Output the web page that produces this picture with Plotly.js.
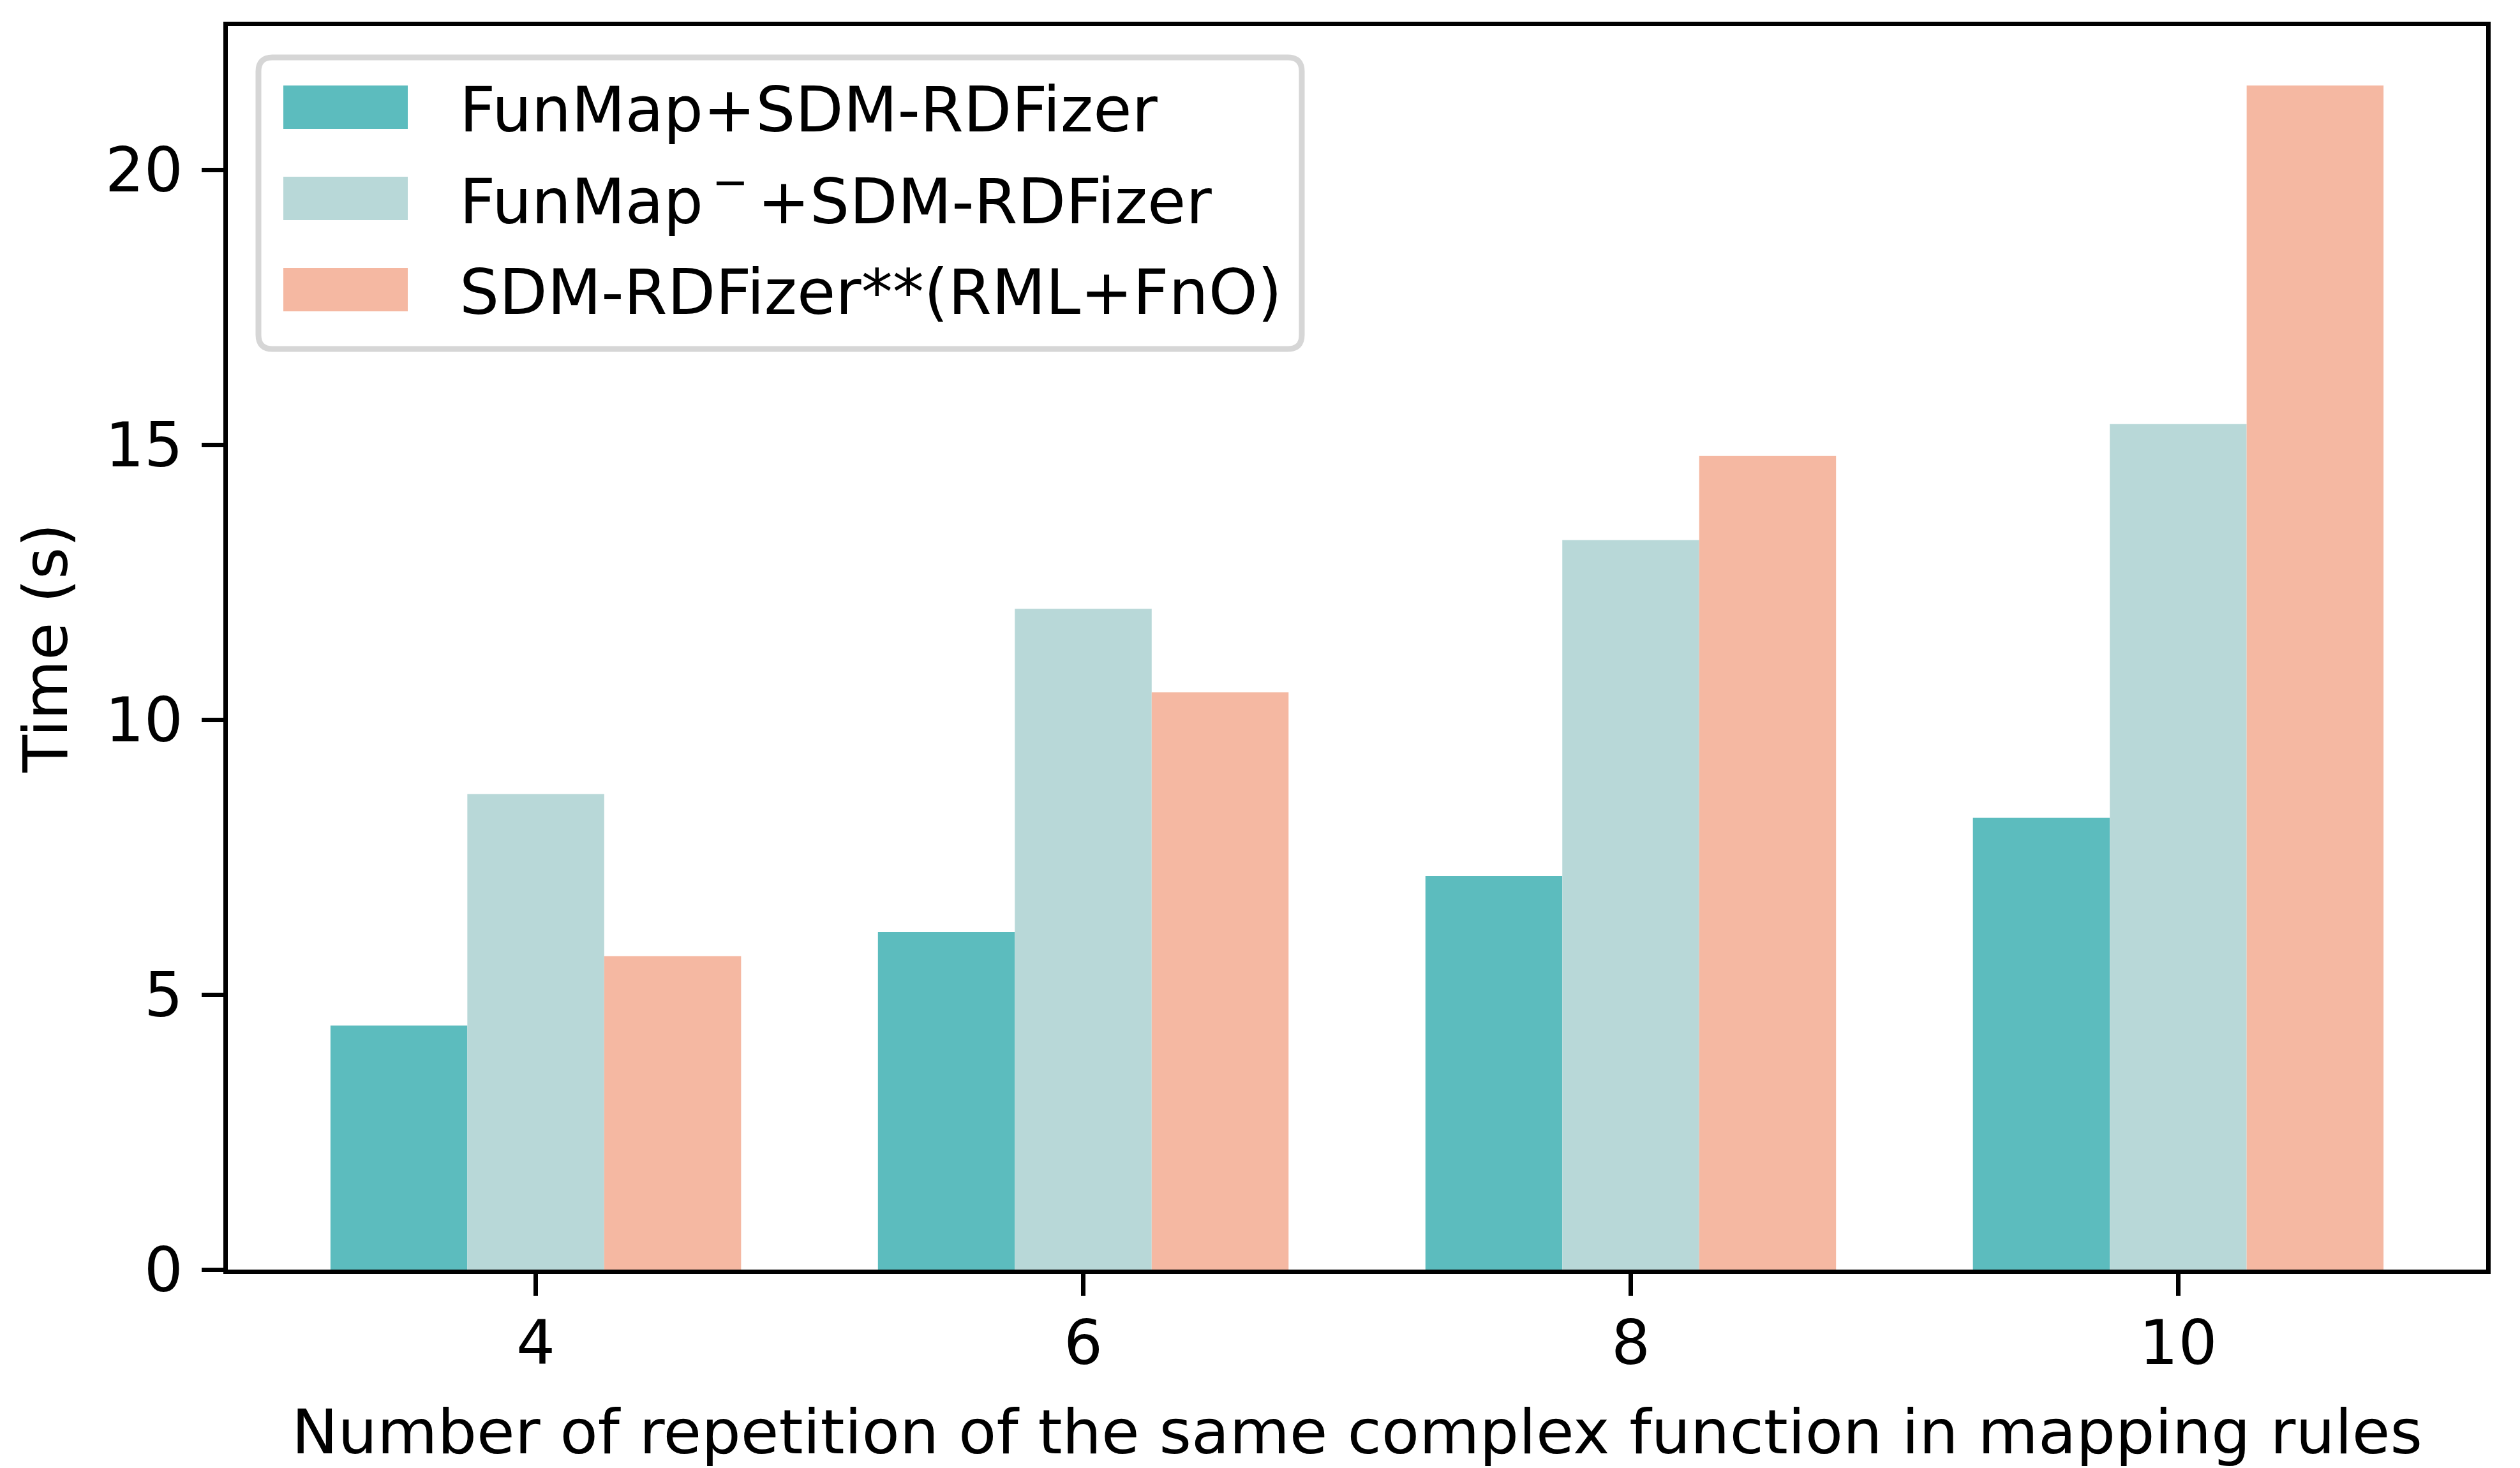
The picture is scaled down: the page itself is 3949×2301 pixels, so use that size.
<!DOCTYPE html>
<html>
<head>
<meta charset="utf-8">
<script src="https://cdn.plot.ly/plotly-3.0.1.min.js"></script>
<style>html,body{margin:0;padding:0;background:#fff;}#chart{width:3949px;height:2301px;}</style>
</head>
<body>
<div id="chart"></div>
<script>
const categories = [4, 6, 8, 10];
const seriesNames = ["FunMap+SDM-RDFizer", "FunMap<sup>\u2009−\u2009</sup>+SDM-RDFizer", "SDM-RDFizer**(RML+FnO)"];
const funmapSdm = [4.44, 6.14, 7.16, 8.22];
const funmapMinusSdm = [8.65, 12.02, 13.27, 15.38];
const sdmRmlFno = [5.70, 10.50, 14.80, 21.54];
const xTickLabels = ["4", "6", "8", "10"];
const seriesColors = ["#5CBCBE", "#B8D8D8", "#F5B8A2"];

const seriesValues = [funmapSdm, funmapMinusSdm, sdmRmlFno];
const W = 3949, H = 2301;
const L = 357, R = 3896, T = 41, B = 1990;
const font = "DejaVu Sans";
const offsets = [-0.75, -0.25, 0.25];

const traces = seriesValues.map((vals, i) => ({
  type: "bar",
  x: categories,
  y: vals,
  name: seriesNames[i],
  width: 0.5,
  offset: offsets[i],
  marker: {color: seriesColors[i], line: {width: 0}},
  showlegend: false,
  hoverinfo: "skip"
}));

// pixel -> paper helpers for the legend box
const px = v => (v - L) / (R - L);
const py = v => (B - v) / (B - T);

const shapes = [];
const annotations = [];
// legend frame (rounded)
const lx0 = 405, lx1 = 2040, ly0 = 90, ly1 = 547, rad = 22;
const rx = rad / (R - L), ry = rad / (B - T);
const X0 = px(lx0), X1 = px(lx1), Y0 = py(ly0), Y1 = py(ly1);
shapes.push({
  type: "path", xref: "paper", yref: "paper",
  path: `M ${X0 + rx} ${Y0} L ${X1 - rx} ${Y0} Q ${X1} ${Y0} ${X1} ${Y0 - ry} L ${X1} ${Y1 + ry} Q ${X1} ${Y1} ${X1 - rx} ${Y1} L ${X0 + rx} ${Y1} Q ${X0} ${Y1} ${X0} ${Y1 + ry} L ${X0} ${Y0 - ry} Q ${X0} ${Y0} ${X0 + rx} ${Y0} Z`,
  line: {color: "#D6D6D6", width: 9},
  fillcolor: "rgba(255,255,255,0.85)",
  layer: "above"
});
const rowCenters = [168, 311, 454];
const textShift = [4, -2, 4];
seriesNames.forEach((name, i) => {
  const c = rowCenters[i];
  shapes.push({
    type: "rect", xref: "paper", yref: "paper",
    x0: px(444), x1: px(639), y0: py(c - 34), y1: py(c + 34),
    fillcolor: seriesColors[i], line: {width: 0}, layer: "above"
  });
  annotations.push({
    xref: "paper", yref: "paper", x: px(718), y: py(c + textShift[i]),
    xanchor: "left", yanchor: "middle", showarrow: false,
    text: name, font: {family: font, size: 98, color: "#000"}
  });
});

const layout = {
  width: W, height: H,
  margin: {l: L, r: W - R, t: T, b: H - B, pad: 0},
  paper_bgcolor: "#fff", plot_bgcolor: "#fff",
  font: {family: font, size: 96, color: "#000"},
  barmode: "overlay",
  xaxis: {
    range: [2.875, 11.125],
    tickvals: categories, ticktext: xTickLabels,
    showline: true, mirror: true, linecolor: "#000", linewidth: 7,
    ticks: "outside", ticklen: 34, tickwidth: 7, tickcolor: "#000",
    ticklabelstandoff: -8,
    showgrid: false, zeroline: false,
    tickfont: {family: font, size: 96},
    title: {text: "Number of repetition of the same complex function in mapping rules", font: {family: font, size: 97}, standoff: 70},
    automargin: false
  },
  yaxis: {
    range: [0, 22.62],
    tickvals: [0, 5, 10, 15, 20],
    showline: true, mirror: true, linecolor: "#000", linewidth: 7,
    ticks: "outside", ticklen: 34, tickwidth: 7, tickcolor: "#000",
    ticklabelstandoff: 10,
    showgrid: false, zeroline: false,
    tickfont: {family: font, size: 96},
    title: {text: "Time (s)", font: {family: font, size: 96}, standoff: 30},
    automargin: false
  },
  shapes: shapes,
  annotations: annotations
};

Plotly.newPlot("chart", traces, layout, {staticPlot: true, displayModeBar: false});
</script>
</body>
</html>
